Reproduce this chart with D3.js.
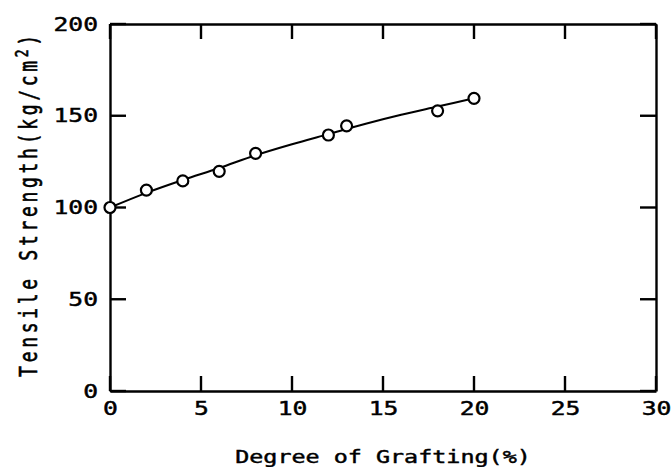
<!DOCTYPE html>
<html>
<head>
<meta charset="utf-8">
<script src="https://cdn.jsdelivr.net/npm/d3@7"></script>
<style>
  body { margin: 0; background: #fff; }
  text { font-family: "DejaVu Sans Mono", monospace; fill: #000; stroke: #000; stroke-width: 0.45px; }
</style>
</head>
<body>
<svg></svg>
<script>
// measured points
let grafting = [0, 2, 4, 6, 8, 12, 13, 18, 20]
let strength = [100, 109.5, 114.5, 119.7, 129.5, 139.5, 144.5, 152.7, 159.5]

// smooth curve drawn through the points
let curveX = [0, 2, 4, 6, 8, 10, 12, 14, 16, 18, 20]
let curveY = [100, 108, 115, 121.5, 128.5, 134.5, 140, 145.5, 150.5, 155, 159.5]

let xTicks = [0, 5, 10, 15, 20, 25, 30]
let yTicks = [0, 50, 100, 150, 200]

let width = 671
let height = 467
let padLeft = 110, padRight = 656, padTop = 24, padBottom = 391
let stretch = 1.3

let svg = d3.select('svg').attr('width', width).attr('height', height)

let xScale = d3.scaleLinear().domain([0, 30]).range([padLeft, padRight])
let yScale = d3.scaleLinear().domain([0, 200]).range([padBottom, padTop])

let drawAxes = () => {
    let xAxis = d3.axisBottom(xScale).tickValues(xTicks).tickSize(0).tickPadding(11)
    let yAxis = d3.axisLeft(yScale).tickValues(yTicks).tickSize(0).tickPadding(12)
    let topAxis = d3.axisTop(xScale).tickValues(xTicks).tickSize(0).tickFormat('')
    let rightAxis = d3.axisRight(yScale).tickValues(yTicks).tickSize(0).tickFormat('')

    let gx = svg.append('g').attr('transform', 'translate(0,' + padBottom + ')').call(xAxis)
    let gy = svg.append('g').attr('transform', 'translate(' + padLeft + ',0)').call(yAxis)
    svg.append('g').attr('transform', 'translate(0,' + padTop + ')').call(topAxis)
    svg.append('g').attr('transform', 'translate(' + padRight + ',0)').call(rightAxis)

    svg.selectAll('.domain').attr('stroke', '#000').attr('stroke-width', 2.4)

    // inward ticks on all four sides
    let ticks = svg.append('g').attr('stroke', '#000').attr('stroke-width', 2.4)
    ticks.selectAll('line.xb').data(xTicks).enter().append('line')
      .attr('x1', d => xScale(d)).attr('x2', d => xScale(d))
      .attr('y1', padBottom).attr('y2', padBottom - 15)
    ticks.selectAll('line.xt').data(xTicks).enter().append('line')
      .attr('x1', d => xScale(d)).attr('x2', d => xScale(d))
      .attr('y1', padTop).attr('y2', padTop + 15)
    ticks.selectAll('line.yl').data(yTicks).enter().append('line')
      .attr('y1', d => yScale(d)).attr('y2', d => yScale(d))
      .attr('x1', padLeft).attr('x2', padLeft + 16)
    ticks.selectAll('line.yr').data(yTicks).enter().append('line')
      .attr('y1', d => yScale(d)).attr('y2', d => yScale(d))
      .attr('x1', padRight).attr('x2', padRight - 16)

    gx.selectAll('.tick text')
      .style('font-size', '19px')
      .attr('transform', 'scale(' + stretch + ',1)')
      .attr('y', 11).attr('dy', '0.71em')
    gy.selectAll('.tick text')
      .style('font-size', '19px')
      .attr('transform', 'scale(' + stretch + ',1)')
      .attr('x', -12 / stretch)
}

let drawCurve = () => {
    let pts = curveX.map((x, i) => [x, curveY[i]])
    let line = d3.line()
      .x(d => xScale(d[0]))
      .y(d => yScale(d[1]))
      .curve(d3.curveMonotoneX)
    svg.append('path')
      .attr('d', line(pts))
      .attr('fill', 'none')
      .attr('stroke', '#000')
      .attr('stroke-width', 2)

    svg.selectAll('circle.pt')
      .data(grafting.map((x, i) => [x, strength[i]]))
      .enter()
      .append('circle')
      .attr('class', 'pt')
      .attr('cx', d => xScale(d[0]))
      .attr('cy', d => yScale(d[1]))
      .attr('r', 5.5)
      .attr('fill', '#fff')
      .attr('stroke', '#000')
      .attr('stroke-width', 2.2)
}

let drawLabels = () => {
    svg.append('g')
      .attr('transform', 'translate(' + (padLeft + padRight) / 2 + ',463) scale(' + stretch + ',1)')
      .append('text')
      .attr('text-anchor', 'middle')
      .style('font-size', '18px')
      .text('Degree of Grafting(%)')

    let yl = svg.append('g')
      .attr('transform', 'translate(37,204) scale(1.35,1) rotate(-90)')
      .append('text')
      .attr('text-anchor', 'middle')
      .style('font-size', '18px')
      .style('letter-spacing', '3.7px')
    yl.append('tspan').text('Tensile Strength(kg/cm')
    yl.append('tspan').attr('dy', -7).style('font-size', '13px').text('2')
    yl.append('tspan').attr('dy', 7).text(')')
}

drawAxes()
drawCurve()
drawLabels()
</script>
</body>
</html>
